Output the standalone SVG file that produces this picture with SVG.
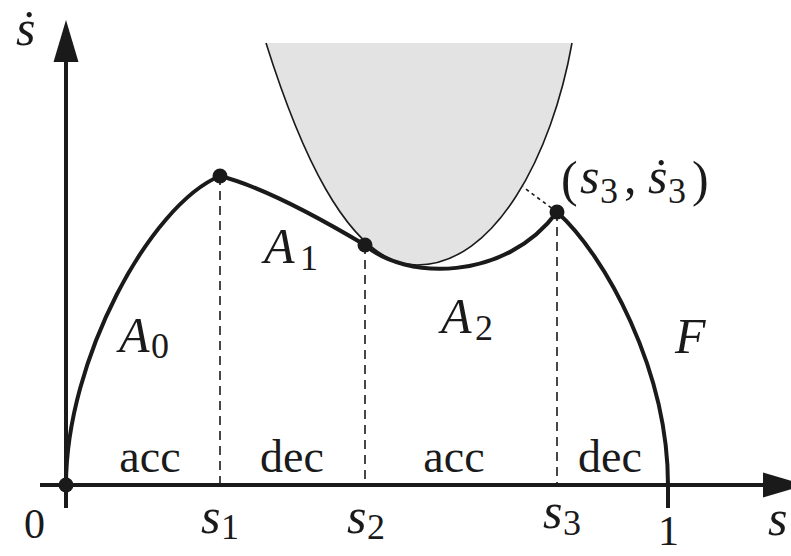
<svg xmlns="http://www.w3.org/2000/svg" width="791" height="556" viewBox="0 0 791 556">
<style>
.ax{stroke:#1a1a1a;stroke-width:4;fill:none}
.crv{stroke:#1a1a1a;stroke-width:4;fill:none;stroke-linecap:round}
.dash{stroke:#1a1a1a;stroke-width:1.6;stroke-dasharray:9 6;fill:none}
.dot{fill:#1a1a1a}
.m{font-family:"Liberation Serif","DejaVu Serif",serif;font-style:italic;font-size:50px;fill:#1a1a1a}
.sub{font-family:"Liberation Serif","DejaVu Serif",serif;font-style:normal;font-size:36px;fill:#1a1a1a}
.t{font-family:"Liberation Serif","DejaVu Serif",serif;font-size:46px;fill:#1a1a1a}
.n{font-family:"Liberation Serif","DejaVu Serif",serif;font-size:42px;fill:#1a1a1a}
</style>
<rect width="791" height="556" fill="#ffffff"/>
<g id="forbidden-region">
<path d="M266,43 C295,135 345,265 417,265 C495,265 552,155 572,43 Z" fill="#e3e3e3" stroke="none"/>
<path d="M266,43 C295,135 345,265 417,265 C495,265 552,155 572,43" fill="none" stroke="#1a1a1a" stroke-width="1.6"/>
</g>
<g id="connectors">
<path class="dash" d="M220,176 V485 M365,245 V485 M557,212 V485"/>
<path d="M557,212 L523,187" stroke="#1a1a1a" stroke-width="1.6" stroke-dasharray="3.5 3.5" fill="none"/>
<path id="A0" class="crv" d="M66,485 C66,360 150,205 220,176"/>
<path id="A1" class="crv" d="M220,176 Q271,189 365,245"/>
<path id="A2" class="crv" d="M365,245 C405,280 505,282 557,212"/>
<path id="F" class="crv" d="M557,212 C605,255 668,370 668,485"/>
</g>
<g id="axes">
<path class="ax" d="M40,485 H770"/>
<path class="ax" d="M66,508 V55"/>
<path class="ax" d="M668,485 V508"/>
<polygon points="66,20 53.5,62 78.5,62" fill="#1a1a1a"/>
<polygon points="805,485 763,472.5 763,497.5" fill="#1a1a1a"/>
</g>
<g id="points">
<circle class="dot" cx="66" cy="485" r="7.5"/>
<circle class="dot" cx="220" cy="176" r="7.5"/>
<circle class="dot" cx="365" cy="245" r="7.5"/>
<circle class="dot" cx="557" cy="212" r="7.5"/>
</g>
<g id="labels">
<text class="m" x="16" y="45">ṡ</text>
<text class="m" x="768" y="535">s</text>
<text class="n" x="24" y="538">0</text>
<text class="n" x="658" y="545">1</text>
<text class="m" x="201" y="533">s</text><text class="sub" x="221" y="539">1</text>
<text class="m" x="347" y="533">s</text><text class="sub" x="367" y="539">2</text>
<text class="m" x="543" y="528">s</text><text class="sub" x="563" y="535">3</text>
<text class="t" x="150" y="472" text-anchor="middle">acc</text>
<text class="t" x="292" y="472" text-anchor="middle">dec</text>
<text class="t" x="454" y="472" text-anchor="middle">acc</text>
<text class="t" x="610" y="472" text-anchor="middle">dec</text>
<text class="m" x="119" y="352">A</text><text class="sub" x="151" y="358">0</text>
<text class="m" x="264" y="263">A</text><text class="sub" x="300" y="270">1</text>
<text class="m" x="441" y="333">A</text><text class="sub" x="475" y="340">2</text>
<text class="m" x="675" y="353">F</text>
<text class="sub" x="561" y="196" style="font-size:50px">(</text>
<text class="m" x="580" y="193">s</text><text class="sub" x="600" y="203">3</text>
<text class="sub" x="624" y="193" style="font-size:50px">,</text>
<text class="m" x="648" y="193">ṡ</text><text class="sub" x="668" y="203">3</text>
<text class="sub" x="692" y="196" style="font-size:50px">)</text>
</g>
</svg>
